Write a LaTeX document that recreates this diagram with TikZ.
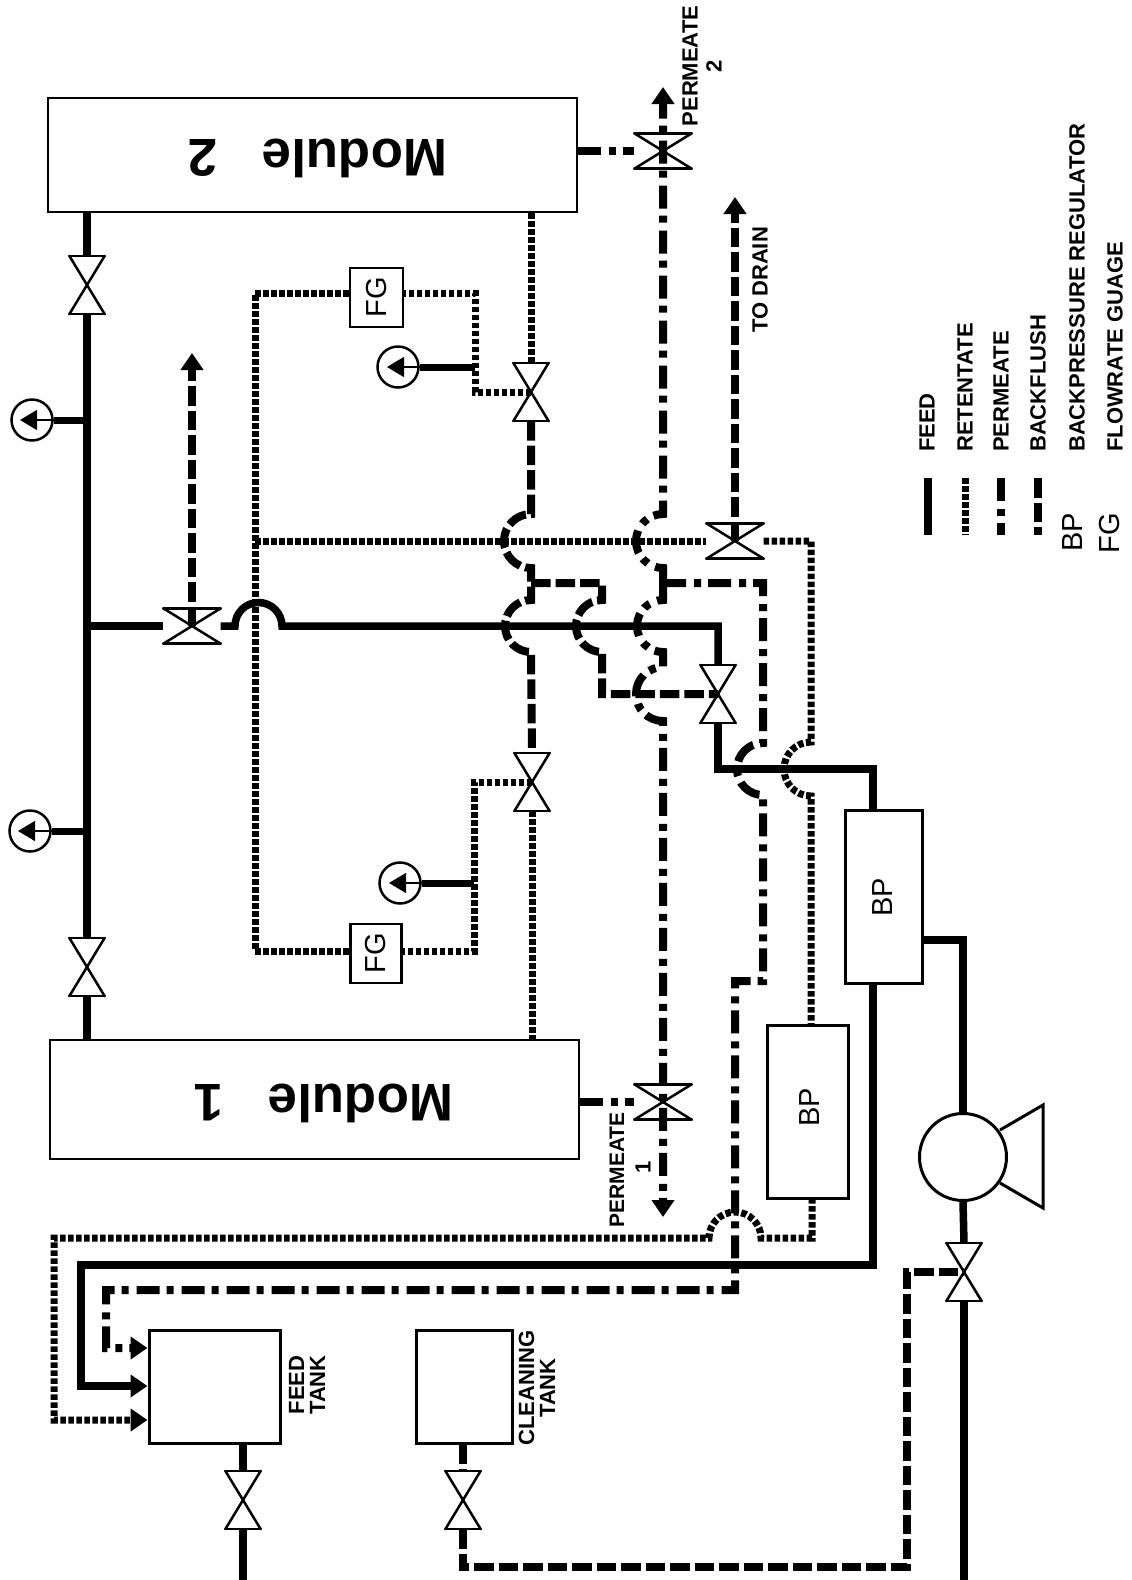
\documentclass[tikz,border=0pt]{standalone}
\usepackage{fontspec}
\setmainfont{Liberation Sans}
\usetikzlibrary{arrows.meta,calc}

\begin{document}
\begin{tikzpicture}[
  x=1pt,y=-1pt,
  every node/.style={font=\fontsize{22}{21}\selectfont\bfseries,align=center,inner sep=0pt},
  box/.style={draw,line width=3pt,minimum width=#1},
  gauge/.style={circle,draw,line width=2.5pt,minimum size=41pt},
  bowtie/.style={inner sep=0pt,minimum width=#1,
    append after command={(\tikzlastnode.north west) edge[valveline] (\tikzlastnode.south east)
      (\tikzlastnode.south east) edge[valveline] (\tikzlastnode.south west)
      (\tikzlastnode.south west) edge[valveline] (\tikzlastnode.north east)
      (\tikzlastnode.north east) edge[valveline] (\tikzlastnode.north west)}},
  valveline/.style={line width=2.5pt,line cap=round,solid,-},
  valveV/.style={bowtie=35pt,minimum height=58pt},
  valveH/.style={bowtie=57pt,minimum height=35pt},
  feed/.style={line width=7.5pt,line join=miter},
  retent/.style={line width=7pt,dash pattern=on 5.5pt off 2.5pt},
  perm/.style={line width=8pt,dash pattern=on 23pt off 8pt on 7pt off 7pt},
  flush/.style={line width=8pt,dash pattern=on 19.5pt off 5pt},
  tip/.style={-{Triangle[length=17pt,width=22pt]}},
  stem/.style={line width=7pt},
  needle/.style={line width=1.2pt,-{Triangle[length=17pt,width=20pt]}},
  lbl/.style={rotate=90},
  sym/.style={rotate=90,font=\fontsize{29}{29}\selectfont}
]
\useasboundingbox (0,0) rectangle (1132,1580);

\node[box=529pt,minimum height=114pt,line width=2.5pt] (mod2) at (312.5,155) {};
\node[rotate=180,font=\fontsize{53}{53}\selectfont\bfseries] (mod2t) at (318,158) {Module\hspace{44pt}2};
\node[box=529pt,minimum height=119pt,line width=2.5pt] (mod1) at (314.5,1099.5) {};
\node[rotate=180,font=\fontsize{53}{53}\selectfont\bfseries] (mod1t) at (324,1103) {Module\hspace{44pt}1};

\node[box=131pt,minimum height=113pt] (ftank) at (214.5,1386.5) {};
\node[box=96pt,minimum height=113pt] (ctank) at (464,1386.5) {};
\node[lbl] (ftankt) at (307,1385) {FEED\\TANK};
\node[lbl] (ctankt) at (537,1388) {CLEANING\\TANK};

\node[box=77pt,minimum height=173pt] (bpa) at (883.5,896.5) {};
\node[sym,font=\fontsize{29}{29}\selectfont] (bpat) at (883,897) {BP};
\node[box=81pt,minimum height=173pt] (bpb) at (807.5,1111.5) {};
\node[sym] (bpbt) at (810,1107) {BP};
\node[box=53pt,minimum height=59pt,line width=2.5pt] (fgt) at (376.5,297.5) {};
\node[sym] (fgtt) at (376.5,297.5) {FG};
\node[box=51pt,minimum height=59pt,line width=2.5pt] (fgb) at (376,953.5) {};
\node[sym] (fgbt) at (376,953.5) {FG};

\node[valveV] (va) at (87,285) {};
\node[valveV] (vb) at (87,967) {};
\node[valveH] (vc) at (192,626) {};
\node[valveV] (vd) at (531,392) {};
\node[valveV] (ve) at (532,782) {};
\node[valveH] (vf) at (735,541) {};
\node[valveV] (vg) at (718,694) {};
\node[valveH] (vh) at (663,151) {};
\node[valveH] (vi) at (663,1102) {};
\node[valveV] (vj) at (964,1272) {};
\node[valveV] (vk) at (243,1500) {};
\node[valveV] (vl) at (463,1500) {};

\node[gauge] (ga) at (32,420) {};
\node[gauge] (gb) at (30,831) {};
\node[gauge] (gc) at (398,367) {};
\node[gauge] (gd) at (400,883) {};

\node[circle,draw,line width=3pt,minimum size=87pt] (pump) at (963,1157) {};
\coordinate (pumpa) at (1000,1130);
\coordinate (pumpb) at (1043,1105);
\coordinate (pumpc) at (1043,1208);
\coordinate (pumpd) at (1000,1183);
\draw[line width=3pt] (pumpa) -- (pumpb) -- (pumpc) -- (pumpd);

% feed
\draw[feed] (va.north |- mod2.south) -- (va.north);
\draw[feed] (va.south) -- (vb.north);
\draw[feed] (vb.south) -- (vb.south |- mod1.north);
\draw[feed] (87,626) -- (vc.west);
\draw[feed] (vc.east) -- (235,626) arc[start angle=180,end angle=360,radius=23.5] -- (718,626) -- (vg.north);
\draw[feed] (vg.south) -- (718,769) -- (873,769) -- (873,810);
\draw[feed,tip] (873,983) -- (873,1265) -- (81,1265) -- (81,1386) -- (ftank.west |- 0,1386);
\draw[feed] (bpa.east |- 0,940) -- (963,940) -- (pump.north);
\draw[feed] (pump.south) -- (vj.north);
\draw[feed] (vj.south) -- (964,1580);
\draw[feed] (ftank.south -| vk) -- (vk.north);
\draw[feed] (vk.south) -- (243,1580);

% gauges
\draw[stem] (87,420) -- (ga.east);
\draw[needle] (ga.east) -- (20,420);
\draw[stem] (87,831) -- (gb.east);
\draw[needle] (gb.east) -- (18,831);
\draw[stem] (475,367) -- (gc.east);
\draw[needle] (gc.east) -- (387,367);
\draw[stem] (474,883) -- (gd.east);
\draw[needle] (gd.east) -- (389,883);

% retentate
\draw[retent] (vd.north) -- (vd.north |- mod2.south);
\draw[retent] (ve.south) -- (ve.south |- mod1.north);
\draw[retent] (vd.center) -- (475,392) -- (475,293) -- (fgt.east |- 0,293);
\draw[retent] (ve.center) -- (474,782) -- (474,951) -- (fgb.east |- 0,951);
\draw[retent] (fgt.west |- 0,293) -- (255,293) -- (255,951) -- (fgb.west |- 0,951);
\draw[retent] (255,541) -- (vf.west);
\draw[retent] (vf.east) -- (811,541) -- (811,742) arc[start angle=270,end angle=90,radius=27] -- (811,1025);
\draw[retent,tip] (812,1198) -- (812,1238) -- (761,1238) arc[start angle=0,end angle=-180,radius=26] -- (54,1238) -- (54,1420) -- (ftank.west |- 0,1420);

% permeate
\draw[perm,tip] (663,583) -- (663,568) arc[start angle=90,end angle=270,radius=27] -- (663,480) -- (663,87);
\draw[perm,tip] (663,583) -- (663,600) arc[start angle=270,end angle=90,radius=26] -- (663,667) arc[start angle=270,end angle=90,radius=27] -- (663,1217);
\draw[perm] (mod2.east |- vh) -- (vh.west);
\draw[perm] (mod1.east |- vi) -- (vi.west);
\draw[perm,tip] (663,583) -- (763,583) -- (763,743) arc[start angle=270,end angle=90,radius=26] -- (763,981) -- (735,981) -- (735,1290) -- (106,1290) -- (106,1348) -- (ftank.west |- 0,1348);

% backflush
\draw[flush] (vd.south) -- (531,514) arc[start angle=270,end angle=90,radius=27] -- (531,600) arc[start angle=270,end angle=90,radius=26] -- (ve.north);
\draw[flush] (531,583) -- (602,583) -- (602,600) arc[start angle=270,end angle=90,radius=26] -- (602,694) -- (vg.center);
\draw[flush,tip] (vf.center) -- (735,197);
\draw[flush,tip] (vc.center) -- (192,353);
\draw[flush] (ctank.south -| vl) -- (vl.north);
\draw[flush] (vl.south) -- (463,1567) -- (907,1567) -- (907,1272) -- (vj.center);

% labels
\node[lbl] (p2t) at (690,66) {PERMEATE};
\node[lbl] (p2n) at (714,66) {2};
\node[lbl,font=\fontsize{21}{21}\selectfont\bfseries] (p1t) at (617,1170) {PERMEATE};
\node[lbl] (p1n) at (643,1167) {1};
\node[lbl] (drain) at (760,280) {TO DRAIN};

% legend
\draw[feed] (928,478) -- (928,535);
\draw[retent] (965,478) -- (965,535);
\draw[perm] (1001,478) -- (1001,535);
\draw[flush] (1038,478) -- (1038,535);
\node[lbl,anchor=west] (lfeed) at (927,452) {FEED};
\node[lbl,anchor=west] (lret) at (965,452) {RETENTATE};
\node[lbl,anchor=west] (lper) at (1001,452) {PERMEATE};
\node[lbl,anchor=west] (lfl) at (1038,452) {BACKFLUSH};
\node[lbl,anchor=west] (lbp) at (1077,452) {BACKPRESSURE REGULATOR};
\node[lbl,anchor=west] (lfg) at (1115,452) {FLOWRATE GUAGE};
\node[sym,anchor=east] (sbp) at (1073,513) {BP};
\node[sym,anchor=east] (sfg) at (1110,513) {FG};
\end{tikzpicture}
\end{document}
